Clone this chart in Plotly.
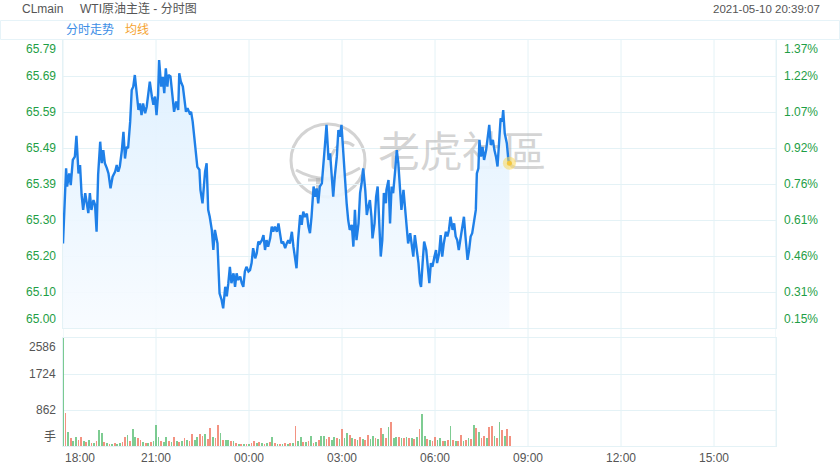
import plotly.graph_objects as go
from datetime import datetime, timedelta

# ---------------- data ----------------
price_times = [
    "18:00","18:06","18:08","18:12","18:15","18:19","18:23","18:26","18:30","18:33",
    "18:36","18:39","18:43","18:46","18:49","18:52","18:55","18:59","19:02","19:05",
    "19:08","19:12","19:15","19:18","19:21","19:25","19:28","19:32","19:36","19:41",
    "19:44","19:47","19:50","19:54","19:57","20:00","20:03","20:06","20:10","20:13",
    "20:16","20:19","20:23","20:26","20:29","20:32","20:35","20:39","20:42","20:45",
    "20:48","20:52","20:55","20:58","21:01","21:04","21:06","21:10","21:13","21:16",
    "21:19","21:22","21:24","21:28","21:31","21:35","21:39","21:43","21:45","21:48",
    "21:52","21:55","21:58","22:01","22:05","22:08","22:11","22:14","22:17","22:20",
    "22:24","22:26","22:30","22:33","22:35","22:38","22:41","22:44","22:48","22:51",
    "22:54","22:59","23:03","23:07","23:10","23:14","23:17","23:20","23:23","23:26",
    "23:30","23:33","23:36","23:39","23:43","23:46","23:49","23:52","23:55","23:59",
    "00:02","00:05","00:08","00:12","00:15","00:18","00:21","00:25","00:28","00:31",
    "00:34","00:37","00:41","00:44","00:47","00:50","00:54","00:57","01:00","01:03",
    "01:06","01:10","01:13","01:16","01:19","01:23","01:26","01:29","01:32","01:35",
    "01:39","01:42","01:45","01:48","01:52","01:55","01:58","02:01","02:05","02:08",
    "02:11","02:14","02:17","02:21","02:24","02:27","02:30","02:34","02:37","02:40",
    "02:43","02:46","02:50","02:53","02:56","02:59","03:03","03:06","03:09","03:12",
    "03:15","03:19","03:22","03:25","03:28","03:32","03:35","03:38","03:41","03:45",
    "03:48","03:51","03:54","03:57","03:59","04:03","04:06","04:09","04:12","04:15",
    "04:18","04:21","04:25","04:26","04:30","04:33","04:36","04:39","04:43","04:46",
    "04:49","04:52","04:55","04:59","05:02","05:05","05:08","05:12","05:15","05:18",
    "05:21","05:25","05:28","05:31","05:33","05:36","05:39","05:43","05:46","05:49",
    "05:52","05:55","05:59","06:02","06:04","06:08","06:11","06:14","06:17","06:21",
    "06:24","06:27","06:30","06:34","06:37","06:40","06:43","06:46","06:50","06:53",
    "06:56","06:59","07:03","07:06","07:09","07:12","07:15","07:19","07:21","07:24",
    "07:26","07:29","07:32","07:35","07:39","07:42","07:45","07:48","07:52","07:55",
    "07:58","08:01","08:04","08:07","08:10","08:12","08:15","08:19","08:22","08:24",
]
prices = [
    65.232,65.438,65.388,65.424,65.392,65.461,65.470,65.527,65.424,65.447,
    65.365,65.324,65.370,65.342,65.315,65.370,65.324,65.351,65.338,65.264,
    65.420,65.511,65.452,65.488,65.452,65.438,65.424,65.383,65.415,65.429,
    65.447,65.429,65.443,65.488,65.538,65.465,65.497,65.493,65.566,65.653,
    65.662,65.694,65.648,65.598,65.616,65.584,65.616,65.589,65.607,65.644,
    65.676,65.635,65.612,65.635,65.584,65.640,65.735,65.662,65.689,65.644,
    65.712,65.662,65.694,65.690,65.644,65.593,65.621,65.598,65.699,65.676,
    65.662,65.625,65.593,65.603,65.589,65.593,65.566,65.525,65.479,65.442,
    65.434,65.379,65.342,65.415,65.429,65.452,65.324,65.305,65.269,65.214,
    65.269,65.232,65.095,65.077,65.054,65.113,65.087,65.123,65.168,65.123,
    65.150,65.113,65.150,65.132,65.141,65.123,65.113,65.155,65.168,65.155,
    65.159,65.178,65.219,65.191,65.205,65.237,65.232,65.241,65.255,65.214,
    65.241,65.223,65.246,65.278,65.264,65.278,65.264,65.287,65.251,65.232,
    65.237,65.219,65.232,65.241,65.232,65.264,65.223,65.196,65.164,65.241,
    65.310,65.283,65.319,65.305,65.314,65.278,65.260,65.305,65.388,65.360,
    65.383,65.342,65.388,65.397,65.461,65.502,65.557,65.461,65.479,65.424,
    65.360,65.415,65.470,65.543,65.525,65.557,65.461,65.406,65.342,65.296,
    65.269,65.283,65.223,65.324,65.241,65.287,65.370,65.397,65.438,65.379,
    65.310,65.333,65.351,65.305,65.246,65.287,65.360,65.388,65.296,65.196,
    65.241,65.370,65.342,65.379,65.406,65.287,65.388,65.370,65.434,65.488,
    65.452,65.397,65.324,65.379,65.333,65.269,65.232,65.260,65.223,65.196,
    65.255,65.214,65.178,65.123,65.113,65.178,65.237,65.214,65.159,65.123,
    65.178,65.168,65.196,65.214,65.178,65.205,65.255,65.196,65.232,65.264,
    65.251,65.269,65.305,65.269,65.287,65.251,65.241,65.214,65.251,65.278,
    65.305,65.251,65.187,65.214,65.251,65.260,65.287,65.324,65.424,65.438,
    65.516,65.470,65.497,65.461,65.488,65.516,65.557,65.502,65.516,65.488,
    65.470,65.443,65.516,65.575,65.566,65.598,65.534,65.507,65.461,65.452,
]

# volume: one value per 5 minutes starting 18:00 (G = green bar, R = red bar)
vol_start = "2021-05-09 18:00"
vol_step_minutes = 5
volumes = [
    2586,784,344,180,120,224,150,224,110,90,
    144,80,70,120,384,300,90,60,50,40,
    60,50,70,90,208,264,130,400,224,184,
    144,90,70,80,100,120,504,224,120,100,
    224,110,90,208,120,104,130,184,150,120,
    288,140,224,288,240,288,160,424,224,180,
    504,304,144,150,140,130,110,80,50,40,
    48,40,50,60,128,70,104,60,50,70,
    90,224,60,48,40,50,60,40,70,80,
    480,120,224,90,100,110,240,80,100,150,
    240,240,160,208,150,224,180,170,416,200,
    304,264,180,160,150,224,170,140,264,160,
    240,180,160,424,288,200,448,584,180,224,
    208,200,180,210,190,200,170,224,400,768,
    240,160,150,130,224,140,184,120,110,150,
    480,144,130,120,264,110,140,184,160,504,
    424,344,180,240,200,464,480,240,200,584,
    384,250,416,240,
]
vol_dir = ("GRGRGGRRGR" "GRGRGGRGRG" "RGGRRGRGGR" "RGRGRGGGRG" "GRGRGRGRGR"
           "RGGRRGRRGR" "RGRGGRGRGR" "GRGRRGRGRG" "RGRGRGRGRG" "RGGRGRGRGR"
           "GGRRGGRGRG" "GRGRGRGRRG" "GRGRGRGRGG" "RGRGRGRGRG" "GRGRRGGRGR"
           "GRGRRGRGRG" "RGRRGRRGRG" "RGRR")

price_tick_labels = ["65.79","65.69","65.59","65.49","65.39","65.30","65.20","65.10","65.00"]
pct_tick_labels = ["1.37%","1.22%","1.07%","0.92%","0.76%","0.61%","0.46%","0.31%","0.15%"]
price_top, price_bottom = 65.79, 65.00
vol_tick_labels = ["2586", "1724", "862", "手"]
vol_tick_values = [2586, 1724, 862, 0]
x_tick_labels = ["18:00","21:00","00:00","03:00","06:00","09:00","12:00","15:00"]
session_start = "2021-05-09 18:00"
session_end = "2021-05-10 17:00"

symbol = "CLmain"
title = "WTI原油主连 - 分时图"
stamp = "2021-05-10 20:39:07"
tab_labels = ["分时走势", "均线"]
watermark = "老虎社區"

# ---------------- helpers ----------------
base = datetime.strptime(session_start, "%Y-%m-%d %H:%M")
def to_dt(hhmm):
    h, m = map(int, hhmm.split(":"))
    d = base.replace(hour=h, minute=m)
    if h < 18:
        d += timedelta(days=1)
    return d

px_times = [to_dt(t) for t in price_times]
v0 = datetime.strptime(vol_start, "%Y-%m-%d %H:%M")
vol_times = [v0 + timedelta(minutes=vol_step_minutes * i) for i in range(len(volumes))]
tick_times = [to_dt(t) for t in x_tick_labels]
x_start = datetime.strptime(session_start, "%Y-%m-%d %H:%M")
x_end = datetime.strptime(session_end, "%Y-%m-%d %H:%M")

W, H = 840, 470
L, R, T, B = 63, 64, 40, 24
PW, PH = W - L - R, H - T - B
def pxx(px):
    return (px - L) / PW
def pxy(py):
    return (H - B - py) / PH

price_dom = [pxy(328), 1]
vol_dom = [0, pxy(338)]

GRID = "#e4f2f6"
GREEN_TXT = "#1e9e45"
GRAY_TXT = "#555555"
FONT = "Liberation Sans, Arial, Noto Sans CJK SC, sans-serif"

n_ticks = len(price_tick_labels)
price_tick_vals = [price_top - k * (price_top - price_bottom) / (n_ticks - 1) for k in range(n_ticks)]

fig = go.Figure()

# watermark text (drawn first so it sits below the line)
t_per_px = (x_end - x_start) / PW
wm_x = x_start + t_per_px * (462 - L)
wm_y = price_bottom + (328 - 156) * (price_top - price_bottom) / 288
fig.add_trace(go.Scatter(
    x=[wm_x], y=[wm_y], mode="text", text=[watermark],
    textfont=dict(size=42, color="rgba(175,175,175,0.55)", family="Noto Sans CJK TC"),
    hoverinfo="skip", showlegend=False, xaxis="x", yaxis="y"))

# price line with gradient fill
fig.add_trace(go.Scatter(
    x=px_times, y=prices, mode="lines",
    line=dict(color="#1f80e8", width=2.4),
    fill="tozeroy",
    fillgradient=dict(type="vertical", start=price_bottom, stop=max(prices),
                      colorscale=[[0, "rgba(247,251,255,0.9)"], [1, "rgba(222,240,255,0.95)"]]),
    hoverinfo="skip", showlegend=False, xaxis="x", yaxis="y"))

# last point glow
fig.add_trace(go.Scatter(
    x=[px_times[-1]], y=[prices[-1]], mode="markers",
    marker=dict(size=13, color="rgba(250,215,90,0.55)", line=dict(width=0)),
    hoverinfo="skip", showlegend=False, xaxis="x", yaxis="y"))
fig.add_trace(go.Scatter(
    x=[px_times[-1]], y=[prices[-1]], mode="markers",
    marker=dict(size=5, color="#f3c63f", line=dict(width=0)),
    hoverinfo="skip", showlegend=False, xaxis="x", yaxis="y"))

# volume bars
bar_colors = ["rgba(76,184,104,0.72)" if d == "G" else "rgba(238,104,80,0.72)" for d in vol_dir]
fig.add_trace(go.Bar(
    x=vol_times, y=volumes, marker=dict(color=bar_colors, line=dict(width=0)),
    width=vol_step_minutes * 60 * 1000 * 0.7,
    hoverinfo="skip", showlegend=False, xaxis="x2", yaxis="y2"))

# ---------------- layout ----------------
shapes = []
for t in tick_times[1:] + [x_start, x_end]:
    shapes.append(dict(type="line", xref="x", yref="paper", x0=t, x1=t, y0=0, y1=1,
                       line=dict(color=GRID, width=1), layer="below"))
# header tab box
shapes.append(dict(type="rect", xref="paper", yref="paper",
                   x0=pxx(0.5), x1=pxx(839.5), y0=pxy(39.5), y1=pxy(20.5),
                   line=dict(color="#e6f3f8", width=1), fillcolor="rgba(0,0,0,0)"))
# watermark logo
WM = "rgba(175,175,175,0.55)"
shapes.append(dict(type="circle", xref="paper", yref="paper",
                   x0=pxx(291), x1=pxx(365), y0=pxy(197), y1=pxy(124),
                   line=dict(color=WM, width=3), layer="below"))
logo_path = ("M {a},{b} Q {c},{d} {e},{f}".format(
    a=pxx(296), b=pxy(170), c=pxx(328), d=pxy(188), e=pxx(360), f=pxy(168)))
shapes.append(dict(type="path", xref="paper", yref="paper", path=logo_path,
                   line=dict(color=WM, width=3), layer="below"))
shapes.append(dict(type="line", xref="paper", yref="paper",
                   x0=pxx(318), x1=pxx(318), y0=pxy(178), y1=pxy(196),
                   line=dict(color=WM, width=4), layer="below"))
shapes.append(dict(type="line", xref="paper", yref="paper",
                   x0=pxx(308), x1=pxx(330), y0=pxy(180), y1=pxy(180),
                   line=dict(color=WM, width=3), layer="below"))
swoosh = ("M {a},{b} Q {c},{d} {e},{f}".format(
    a=pxx(326), b=pxy(172), c=pxx(336), d=pxy(132), e=pxx(354), f=pxy(146)))
shapes.append(dict(type="path", xref="paper", yref="paper", path=swoosh,
                   line=dict(color=WM, width=3), layer="below"))

ann = []
n = len(price_tick_vals)
for k, (v, lab, pl) in enumerate(zip(price_tick_vals, price_tick_labels, pct_tick_labels)):
    ya = "top" if k == 0 else ("bottom" if k == n - 1 else "middle")
    ann.append(dict(x=0, xref="paper", y=v, yref="y", text=lab, showarrow=False,
                    xanchor="right", yanchor=ya, xshift=-5,
                    font=dict(size=12, color=GREEN_TXT, family=FONT)))
    ann.append(dict(x=1, xref="paper", y=v, yref="y", text=pl, showarrow=False,
                    xanchor="left", yanchor=ya, xshift=6,
                    font=dict(size=12, color=GREEN_TXT, family=FONT)))
for k, (v, lab) in enumerate(zip(vol_tick_values, vol_tick_labels)):
    ya = "top" if k == 0 else ("bottom" if k == len(vol_tick_values) - 1 else "middle")
    ann.append(dict(x=0, xref="paper", y=v, yref="y2", text=lab, showarrow=False,
                    xanchor="right", yanchor=ya, xshift=-5,
                    font=dict(size=12, color=GRAY_TXT, family=FONT)))
for k, (t, lab) in enumerate(zip(tick_times, x_tick_labels)):
    ann.append(dict(x=t, xref="x2", y=0, yref="paper", text=lab, showarrow=False,
                    xanchor="left" if k == 0 else "center", yanchor="top", yshift=-3,
                    font=dict(size=12, color=GRAY_TXT, family=FONT)))
# header
ann.append(dict(x=pxx(20), xref="paper", y=pxy(9), yref="paper", text=symbol, showarrow=False,
                xanchor="left", yanchor="middle", font=dict(size=12, color=GRAY_TXT, family=FONT)))
ann.append(dict(x=pxx(78), xref="paper", y=pxy(9), yref="paper", text=title, showarrow=False,
                xanchor="left", yanchor="middle", font=dict(size=12, color=GRAY_TXT, family=FONT)))
ann.append(dict(x=pxx(822), xref="paper", y=pxy(9), yref="paper", text=stamp, showarrow=False,
                xanchor="right", yanchor="middle", font=dict(size=11.5, color=GRAY_TXT, family=FONT)))
ann.append(dict(x=pxx(64), xref="paper", y=pxy(30), yref="paper", text=tab_labels[0], showarrow=False,
                xanchor="left", yanchor="middle", font=dict(size=12, color="#3c8ee6", family=FONT)))
ann.append(dict(x=pxx(123), xref="paper", y=pxy(30), yref="paper", text=tab_labels[1], showarrow=False,
                xanchor="left", yanchor="middle", font=dict(size=12, color="#f5a330", family=FONT)))

axis_common = dict(showticklabels=False, ticks="", zeroline=False)
fig.update_layout(
    width=W, height=H,
    margin=dict(l=L, r=R, t=T, b=B, pad=0),
    paper_bgcolor="white", plot_bgcolor="white",
    showlegend=False, hovermode=False, bargap=0,
    xaxis=dict(domain=[0, 1], range=[x_start, x_end], type="date", anchor="y",
               showgrid=False, showline=True, mirror=True, linecolor=GRID, linewidth=1,
               **axis_common),
    yaxis=dict(domain=price_dom, range=[price_bottom, price_top], anchor="x",
               tickvals=price_tick_vals[1:-1], showgrid=True, gridcolor=GRID, gridwidth=1,
               showline=True, mirror=True, linecolor=GRID, linewidth=1, **axis_common),
    xaxis2=dict(domain=[0, 1], range=[x_start, x_end], type="date", anchor="y2", matches="x",
                showgrid=False, showline=True, mirror=True, linecolor=GRID, linewidth=1,
                **axis_common),
    yaxis2=dict(domain=vol_dom, range=[0, max(vol_tick_values)], anchor="x2",
                tickvals=vol_tick_values[1:-1], showgrid=True, gridcolor=GRID, gridwidth=1,
                showline=True, mirror=True, linecolor=GRID, linewidth=1, **axis_common),
    shapes=shapes, annotations=ann,
    font=dict(family=FONT, size=12, color=GRAY_TXT),
)

fig.write_html("out.html", config={"displayModeBar": False, "staticPlot": True},
               post_script="document.body.style.margin='0';document.body.style.overflow='hidden';")
